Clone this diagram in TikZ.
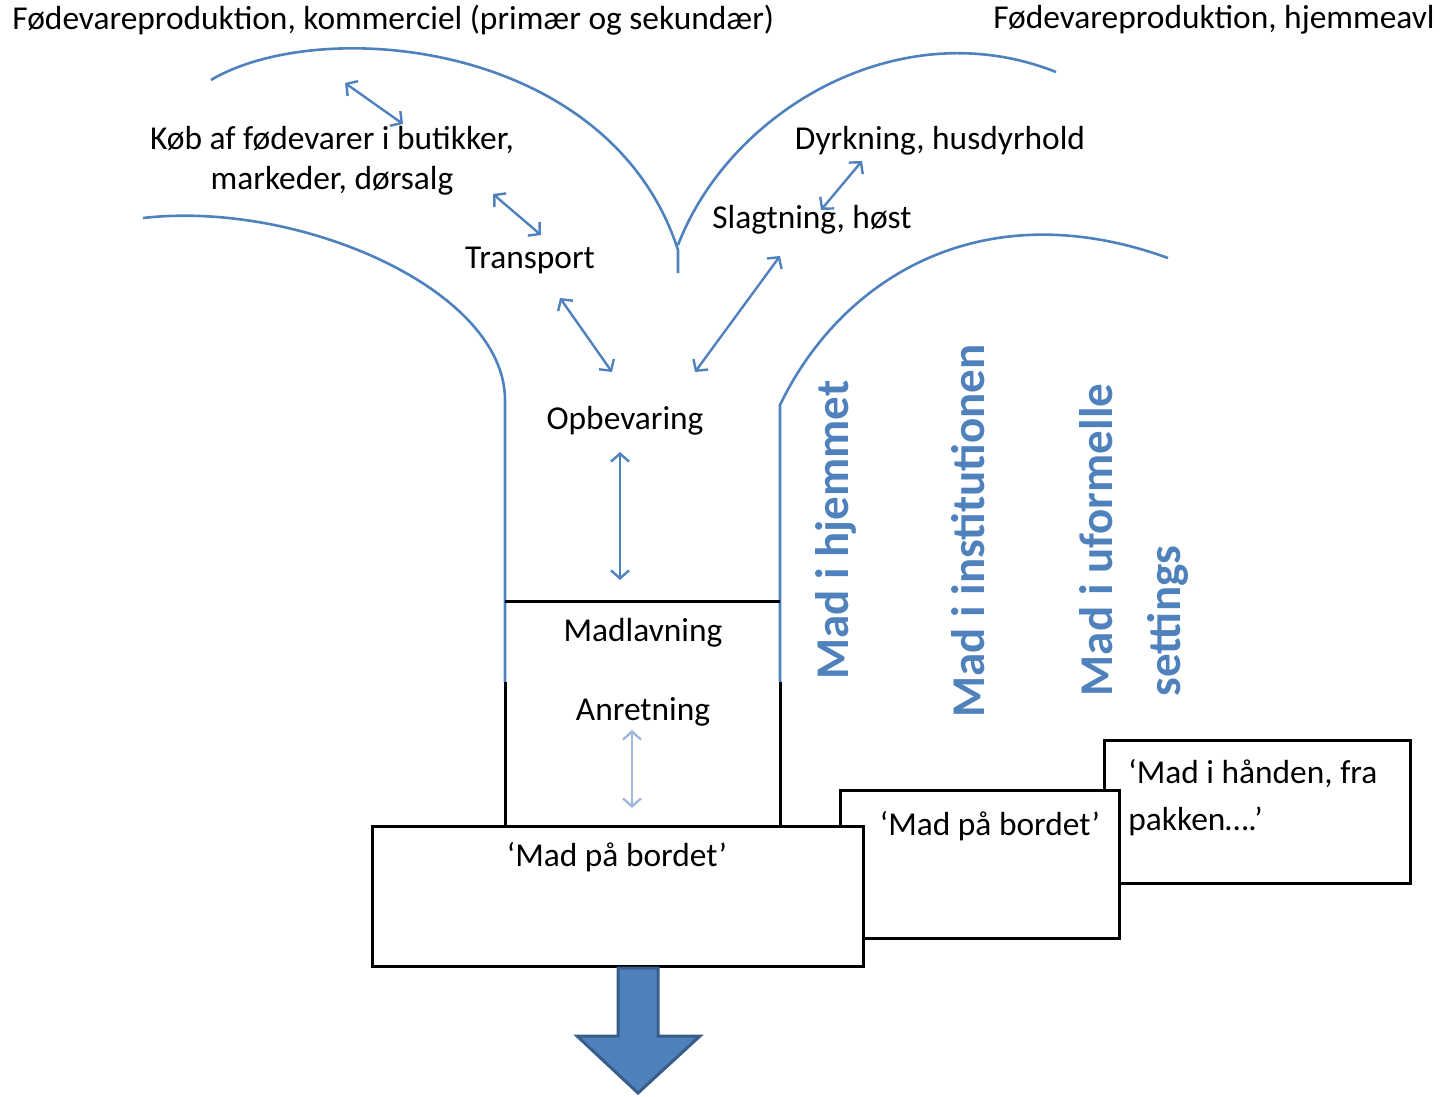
\documentclass[tikz,border=0pt]{standalone}
\usepackage{fontspec}
\setmainfont{Carlito}
\usetikzlibrary{arrows.meta}
\definecolor{offblue}{HTML}{4F81BD}
\definecolor{offdark}{HTML}{385D8A}
\definecolor{paleblue}{HTML}{9FB8DC}

\begin{document}
\begin{tikzpicture}[
    x=0.5pt, y=-0.5pt,
    font=\fontsize{16.7}{20}\selectfont,
    >={Straight Barb[length=4pt,width=9pt]},
    lbl/.style={inner sep=0pt, align=center},
    place/.style={font=\fontsize{23.5}{34}\selectfont\bfseries, text=offblue, rotate=90, inner sep=0pt, align=left},
    branch/.style={draw=offblue, line width=1.3pt},
    wall/.style={draw=black, line width=1.5pt},
    flow/.style={<->, draw=offblue, line width=1.2pt},
    card/.style={draw=black, line width=1.5pt, fill=white},
    bigarrow/.style={fill=offblue, draw=offdark, line width=1.5pt, line join=miter},
]
    \useasboundingbox (0,0) rectangle (1445,1097);

    % =====================================================================
    % TOP: the two production branches
    % =====================================================================
    \node[lbl, anchor=west] (kommerciel) at (12,20) {Fødevareproduktion, kommerciel (primær og sekundær)};
    \node[lbl, anchor=east] (hjemmeavl) at (1435,20) {Fødevareproduktion, hjemmeavl};

    % Branch curves
    \draw[branch] (211,80) .. controls (320,15) and (610,40) .. (678,250) -- (678,273);
    \draw[branch] (678,245) .. controls (730,110) and (900,10) .. (1056,72);
    \draw[branch] (143,218) .. controls (300,200) and (505,290) .. (505,400) -- (505,682);
    \draw[branch] (780,682) -- (780,405) .. controls (840,280) and (980,190) .. (1168,258);

    % Steps
    \node[lbl] (koeb) at (332,161) {Køb af fødevarer i butikker,\\markeder, dørsalg};
    \node[lbl] (transport) at (530,260) {Transport};
    \node[lbl] (dyrkning) at (940,141) {Dyrkning, husdyrhold};
    \node[lbl] (slagtning) at (812,220) {Slagtning, høst};

    % Arrow ends
    \coordinate (k1) at (345,83);   \coordinate (k2) at (403,124);
    \coordinate (t1) at (493,194);  \coordinate (t2) at (541,235);
    \coordinate (o1) at (560,298);  \coordinate (o2) at (612,372);
    \coordinate (s1) at (780,256);  \coordinate (s2) at (695,372);
    \coordinate (d1) at (862,161);  \coordinate (d2) at (821,210);

    \draw[flow] (k1) -- (k2);
    \draw[flow] (t1) -- (t2);
    \draw[flow] (o1) -- (o2);
    \draw[flow] (s1) -- (s2);
    \draw[flow] (d1) -- (d2);

    % =====================================================================
    % TRUNK: storage, cooking, serving
    % =====================================================================
    \draw[wall] (505,682) -- (505,826);
    \draw[wall] (780,682) -- (780,826);
    \draw[wall] (505,601) -- (780,601);

    \node[lbl] (opbevaring) at (625,421) {Opbevaring};
    \node[lbl] (madlavning) at (643,633) {Madlavning};
    \node[lbl] (anretning) at (643,712) {Anretning};

    \coordinate (v1) at (620,452);  \coordinate (v2) at (620,580);
    \coordinate (w1) at (632,730);  \coordinate (w2) at (632,808);
    \draw[flow] (v1) -- (v2);
    \draw[flow, draw=paleblue] (w1) -- (w2);

    % Settings (vertical)
    \node[place] (hjem) at (836,530) {Mad i hjemmet};
    \node[place] (inst) at (968,531) {Mad i institutionen};
    \node[place] (uform) at (1134,540) {Mad i uformelle\\settings};

    % =====================================================================
    % BOTTOM: the tables
    % =====================================================================
    \draw[card] (1104,740) rectangle (1410,883);
    \draw[card] (840,790) rectangle (1119,938);
    \draw[card] (372,826) rectangle (863,966);

    \node[lbl, anchor=west, align=left, font=\fontsize{16.7}{23.5}\selectfont] (haand) at (1128,798) {`Mad i hånden, fra\\pakken….'};
    \node[lbl] (bord2) at (990,826) {`Mad på bordet'};
    \node[lbl] (bord1) at (617,857) {`Mad på bordet'};

    % Outgoing block arrow
    \draw[bigarrow] (618,968) -- (658,968) -- (658,1036) -- (700,1036) -- (638,1093)
        -- (577,1036) -- (618,1036) -- cycle;

\end{tikzpicture}
\end{document}
